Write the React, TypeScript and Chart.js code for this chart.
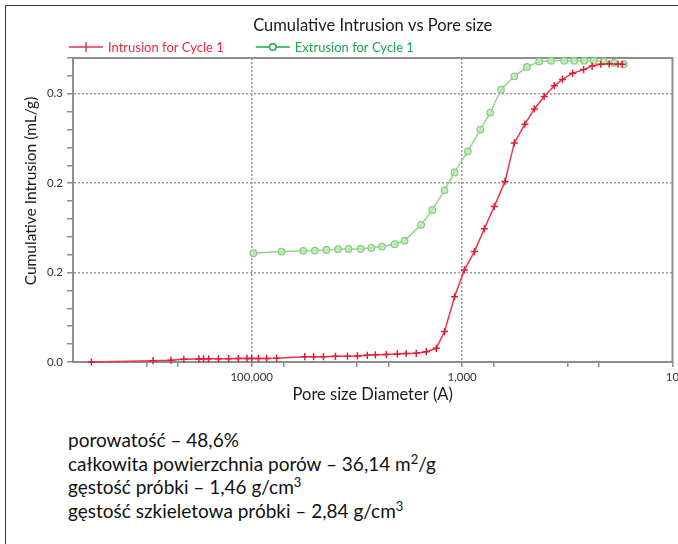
import React, { useEffect, useRef } from "react";
import { Chart, registerables } from "chart.js";

Chart.register(...registerables);

// ---- data ----
const intrusionPoreSize = [
  3.34e6, 8.67e5, 5.86e5, 4.42e5, 3.18e5, 2.87e5, 2.57e5, 2.07e5, 1.66e5, 1.34e5,
  1.11e5, 1.0e5, 8.64e4, 7.21e4, 5.8e4, 3.13e4, 2.58e4, 2.08e4, 1.6e4, 1.23e4,
  9.89e3, 7.96e3, 6.68e3, 5.25e3, 4.13e3, 3.4e3, 2.73e3, 2.19e3, 1.76e3, 1.47e3,
  1.18e3, 951, 764, 615, 494, 391, 319, 253, 206, 166,
  133, 111, 89, 70, 58, 48, 40, 33, 30,
];
const intrusionValues = [
  0.0, 0.0015, 0.002, 0.003, 0.0034, 0.0035, 0.0035, 0.0036, 0.0037, 0.0038,
  0.004, 0.004, 0.004, 0.004, 0.0042, 0.006, 0.006, 0.006, 0.0063, 0.0065,
  0.0068, 0.0075, 0.008, 0.0085, 0.009, 0.0095, 0.0097, 0.0115, 0.0153, 0.034,
  0.073, 0.103, 0.1235, 0.149, 0.174, 0.202, 0.245, 0.266, 0.283, 0.297,
  0.309, 0.316, 0.323, 0.327, 0.331, 0.333, 0.3335, 0.333, 0.333,
];
const extrusionPoreSize = [
  9.64e4, 5.2e4, 3.24e4, 2.51e4, 1.95e4, 1.51e4, 1.2e4, 9.2e3, 7.29e3, 5.77e3,
  4.38e3, 3.52e3, 2.45e3, 1.92e3, 1.47e3, 1.18e3, 883, 671, 540, 427,
  319, 242, 185, 143, 107, 86, 69, 56, 45, 36, 29,
];
const extrusionValues = [
  0.1217, 0.1235, 0.1243, 0.1246, 0.1254, 0.1262, 0.1265, 0.1265, 0.1277, 0.1291,
  0.1318, 0.1358, 0.1534, 0.17, 0.192, 0.212, 0.2355, 0.26, 0.279, 0.3046,
  0.3195, 0.33, 0.336, 0.337, 0.337, 0.337, 0.337, 0.337, 0.336, 0.3345, 0.333,
];
const seriesLabels = ["Intrusion for Cycle 1", "Extrusion for Cycle 1"];
const xTickValues = [10, 50, 100, 500, 1000, 5000, 10000, 50000, 100000, 500000, 1000000];
const xLabelledTicks: Record<number, string> = { 10: "10", 1000: "1,000", 100000: "100,000" };
const xGridTicks = [1000, 100000];
const yMajorLabels = ["0.0", "0.2", "0.2", "0.3"];
const chartTitle = "Cumulative Intrusion vs Pore size";
const xTitle = "Pore size Diameter (A)";
const yTitle = "Cumulative Intrusion (mL/g)";
const notes = [
  ["porowatość – 48,6%", ""],
  ["całkowita powierzchnia porów – 36,14 m", "2", "/g"],
  ["gęstość próbki – 1,46 g/cm", "3", ""],
  ["gęstość szkieletowa próbki – 2,84 g/cm", "3", ""],
];

const RED = "#e8344c";
const RED_TEXT = "#ee2a3c";
const GREEN_LINE = "#94d68c";
const GREEN_TEXT = "#1aa553";
const AXIS = "#8e8e8e";
const FONT = "Lato";

const majorIndex = (v: number) => {
  const k = Math.round(v * 10);
  return Math.abs(v * 10 - k) < 1e-6 ? k : -1;
};

const legendPlugin = {
  id: "customLegend",
  afterDraw(chart: any) {
    const ctx = chart.ctx;
    ctx.save();
    ctx.font = `13px ${FONT}`;
    ctx.textBaseline = "middle";
    let x = 69;
    const y = 47;
    chart.data.datasets.forEach((ds: any, i: number) => {
      const col = i === 0 ? RED : GREEN_TEXT;
      ctx.strokeStyle = col;
      ctx.lineWidth = 1.5;
      ctx.beginPath();
      ctx.moveTo(x, y);
      ctx.lineTo(x + 34, y);
      ctx.stroke();
      if (i === 0) {
        ctx.beginPath();
        ctx.moveTo(x + 17, y - 5);
        ctx.lineTo(x + 17, y + 5);
        ctx.stroke();
      } else {
        ctx.beginPath();
        ctx.arc(x + 17, y, 3.3, 0, Math.PI * 2);
        ctx.fillStyle = "#fff";
        ctx.fill();
        ctx.stroke();
      }
      ctx.fillStyle = i === 0 ? RED_TEXT : GREEN_TEXT;
      ctx.fillText(ds.label, x + 39, y + 1);
      x += 39 + ctx.measureText(ds.label).width + 32;
    });
    ctx.restore();
  },
};

const yTitlePlugin = {
  id: "yTitle",
  afterDraw(chart: any) {
    const ctx = chart.ctx;
    ctx.save();
    ctx.translate(31, 191);
    ctx.rotate(-Math.PI / 2);
    ctx.font = `15.5px ${FONT}`;
    ctx.fillStyle = "#1a1a1a";
    ctx.textAlign = "center";
    ctx.textBaseline = "middle";
    ctx.fillText(yTitle, 0, 0);
    ctx.restore();
  },
};

const frameBorderPlugin = {
  id: "frameBorder",
  beforeDatasetsDraw(chart: any) {
    const { ctx, chartArea: a } = chart;
    ctx.save();
    ctx.strokeStyle = AXIS;
    ctx.lineWidth = 2;
    ctx.beginPath();
    ctx.moveTo(a.left, a.top);
    ctx.lineTo(a.right, a.top);
    ctx.lineTo(a.right, a.bottom);
    ctx.stroke();
    ctx.restore();
  },
};

export default function App() {
  const ref = useRef<HTMLCanvasElement | null>(null);

  useEffect(() => {
    if (!ref.current) return;
    Chart.defaults.font.family = FONT;
    const chart = new Chart(ref.current, {
      type: "line",
      data: {
        datasets: [
          {
            label: seriesLabels[0],
            data: intrusionPoreSize.map((x, i) => ({ x, y: intrusionValues[i] })),
            borderColor: RED,
            borderWidth: 1.5,
            pointStyle: "cross",
            pointRadius: 3.6,
            pointBorderWidth: 1.5,
            pointBorderColor: "#dd1f33",
            pointBackgroundColor: "#dd1f33",
            tension: 0,
            clip: 4,
          },
          {
            label: seriesLabels[1],
            data: extrusionPoreSize.map((x, i) => ({ x, y: extrusionValues[i] })),
            borderColor: GREEN_LINE,
            borderWidth: 1.5,
            pointStyle: "circle",
            pointRadius: 3.3,
            pointBorderWidth: 1.2,
            pointBorderColor: "#86cc80",
            pointBackgroundColor: "rgba(190,232,180,0.8)",
            tension: 0,
            clip: 4,
          },
        ],
      },
      options: {
        animation: false,
        responsive: false,
        events: [],
        layout: { padding: { left: 0, right: 5, top: 0, bottom: 0 } },
        plugins: {
          legend: { display: false },
          tooltip: { enabled: false },
          title: {
            display: true,
            text: chartTitle,
            fullSize: false,
            color: "#1a1a1a",
            font: { size: 16.5, weight: "normal", family: FONT },
            padding: { top: 16, bottom: 22.2 },
          },
        },
        scales: {
          x: {
            type: "logarithmic",
            reverse: true,
            min: 10,
            max: 5000000,
            afterBuildTicks: (scale: any) => {
              scale.ticks = xTickValues.map((v) => ({ value: v }));
            },
            afterFit: (scale: any) => {
              scale.height = 58;
              scale.paddingLeft = 0;
              scale.paddingRight = 0;
            },
            ticks: {
              autoSkip: false,
              maxRotation: 0,
              padding: 3,
              color: "#333",
              font: { size: 11.5, family: FONT },
              callback: (v: any) => xLabelledTicks[Number(v)] ?? "",
            },
            grid: {
              color: (c: any) => (xGridTicks.includes(c.tick?.value) ? "#9a9a9a" : "transparent"),
              lineWidth: 1.5,
              tickColor: AXIS,
              tickLength: 5,
              tickWidth: 1.5,
            },
            border: { color: AXIS, width: 2, dash: [2, 2] },
            title: {
              display: true,
              text: xTitle,
              color: "#1a1a1a",
              font: { size: 16.5, family: FONT },
              padding: { top: 0, bottom: 15 },
            },
          },
          y: {
            type: "linear",
            min: 0,
            max: 0.34,
            afterFit: (scale: any) => {
              scale.width = 73;
              scale.paddingTop = 0;
              scale.paddingBottom = 0;
            },
            ticks: {
              stepSize: 0.02,
              autoSkip: false,
              padding: 4,
              color: "#333",
              font: { size: 11.5, family: FONT },
              callback: (v: any) => {
                const k = majorIndex(Number(v));
                return k >= 0 && k < yMajorLabels.length ? yMajorLabels[k] : "";
              },
            },
            grid: {
              color: (c: any) => {
                const k = majorIndex(c.tick?.value ?? -1);
                return k > 0 ? "#9a9a9a" : "transparent";
              },
              lineWidth: 1.5,
              tickColor: AXIS,
              tickLength: 6,
              tickWidth: 1.5,
            },
            border: { color: AXIS, width: 2, dash: [2, 2] },
          },
        },
      },
      plugins: [frameBorderPlugin, legendPlugin, yTitlePlugin],
    } as any);
    return () => chart.destroy();
  }, []);

  return (
    <div
      style={{
        position: "fixed",
        left: 0,
        top: 0,
        width: 678,
        height: 544,
        background: "#fff",
        overflow: "hidden",
        fontFamily: FONT,
      }}
    >
      <div
        style={{
          position: "absolute",
          left: 5,
          top: 5,
          right: -10,
          bottom: -10,
          borderLeft: "1.5px solid #3a3a3a",
          borderTop: "1.5px solid #3a3a3a",
        }}
      />
      <canvas ref={ref} width={678} height={420} style={{ position: "absolute", left: 0, top: 0 }} />
      <div
        style={{
          position: "absolute",
          left: 68,
          top: 428,
          fontSize: 19,
          lineHeight: "23.5px",
          color: "#111",
          fontFamily: FONT,
        }}
      >
        {notes.map((n, i) => (
          <div key={i} style={{ whiteSpace: "nowrap" }}>
            {n[0]}
            {n[1] ? <sup style={{ fontSize: 13, lineHeight: 0 }}>{n[1]}</sup> : null}
            {n[2] ?? ""}
          </div>
        ))}
      </div>
    </div>
  );
}
